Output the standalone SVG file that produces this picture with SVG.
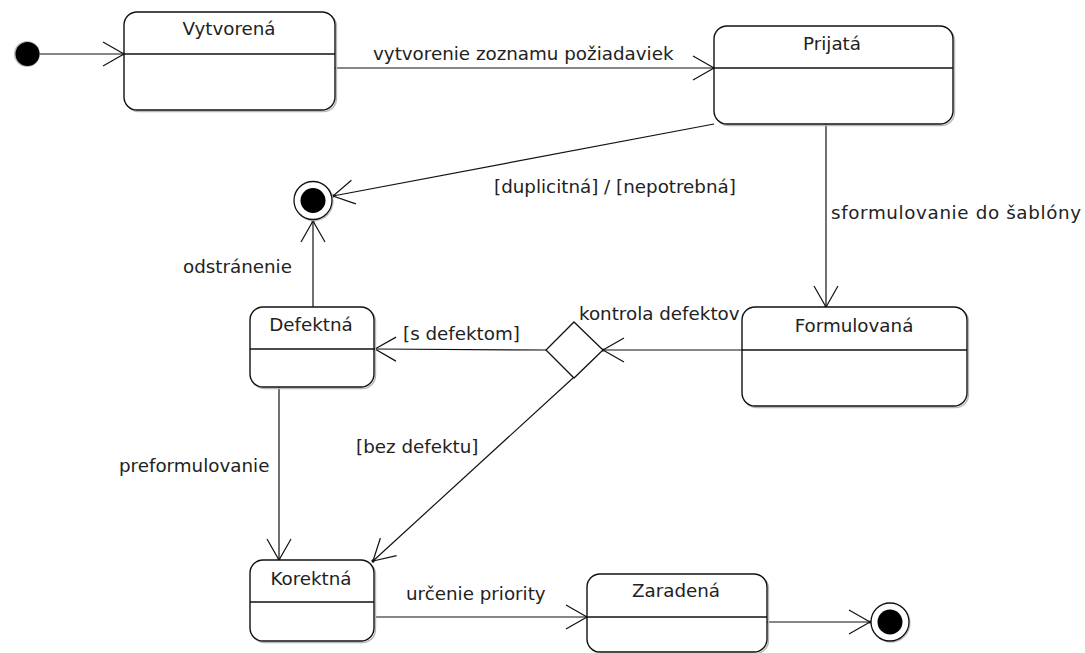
<svg xmlns="http://www.w3.org/2000/svg" width="1085" height="653" viewBox="0 0 1085 653">
  <defs>
    <style>
      .box { fill: #ffffff; stroke: #111111; stroke-width: 1.4; }
      .shadow { fill: none; stroke: #b8b8b8; stroke-width: 1.4; }
      .div { stroke: #111111; stroke-width: 1.4; }
      .edge { fill: none; stroke: #111111; stroke-width: 1.2; }
      text { font-family: "DejaVu Sans", "Liberation Sans", sans-serif; font-size: 18.3px; fill: #222222; }
      .title { text-anchor: middle; }
    </style>
    <marker id="open" markerUnits="userSpaceOnUse" markerWidth="30" markerHeight="30" viewBox="-24 -15 28 30" refX="0" refY="0" orient="auto">
      <path d="M -21 -12 L 0 0 L -21 12" fill="none" stroke="#111111" stroke-width="1.2"/>
      <circle cx="0" cy="0" r="1.6" fill="#111111"/>
    </marker>
  </defs>

  <rect width="1085" height="653" fill="#ffffff"/>

  <!-- connectors -->
  <g id="connectors">
    <line class="edge" x1="39" y1="54" x2="124" y2="54" marker-end="url(#open)"/>
    <line class="edge" x1="335" y1="68" x2="714" y2="68" marker-end="url(#open)"/>
    <text x="373" y="60">vytvorenie zoznamu požiadaviek</text>

    <line class="edge" x1="714" y1="124" x2="333" y2="196" marker-end="url(#open)"/>
    <text x="494" y="193">[duplicitná] / [nepotrebná]</text>

    <line class="edge" x1="826" y1="124" x2="826" y2="307" marker-end="url(#open)"/>
    <text x="831" y="219" textLength="250">sformulovanie do šablóny</text>

    <line class="edge" x1="313" y1="307" x2="313" y2="221" marker-end="url(#open)"/>
    <text x="183" y="273">odstránenie</text>

    <line class="edge" x1="742" y1="350" x2="603" y2="350" marker-end="url(#open)"/>
    <text x="579" y="320">kontrola defektov</text>

    <line class="edge" x1="546" y1="350" x2="375" y2="349" marker-end="url(#open)"/>
    <text x="403" y="340">[s defektom]</text>

    <line class="edge" x1="573" y1="378" x2="373" y2="561" marker-end="url(#open)"/>
    <text x="356" y="453">[bez defektu]</text>

    <line class="edge" x1="279" y1="387" x2="279" y2="560" marker-end="url(#open)"/>
    <text x="119" y="472">preformulovanie</text>

    <line class="edge" x1="375" y1="617" x2="587" y2="617" marker-end="url(#open)"/>
    <text x="406" y="600">určenie priority</text>

    <line class="edge" x1="767" y1="622" x2="870" y2="622" marker-end="url(#open)"/>
  </g>

  <!-- initial state -->
  <g id="initial">
    <circle cx="27" cy="54" r="13" fill="#bbbbbb"/>
    <circle cx="27.5" cy="54" r="12" fill="#000000"/>
  </g>

  <!-- states -->
  <g id="vytvorena">
    <rect class="shadow" x="125.5" y="13.5" width="211" height="98" rx="13"/>
    <rect class="box" x="124" y="12" width="211" height="98" rx="13"/>
    <line class="div" x1="124" y1="54" x2="335" y2="54"/>
    <text class="title" x="229" y="35">Vytvorená</text>
  </g>

  <g id="prijata">
    <rect class="shadow" x="715.5" y="27.5" width="239" height="98" rx="13"/>
    <rect class="box" x="714" y="26" width="239" height="98" rx="13"/>
    <line class="div" x1="714" y1="68" x2="953" y2="68"/>
    <text class="title" x="832" y="50">Prijatá</text>
  </g>

  <g id="defektna">
    <rect class="shadow" x="251.5" y="308.5" width="124" height="80" rx="13"/>
    <rect class="box" x="250" y="307" width="124" height="80" rx="13"/>
    <line class="div" x1="250" y1="349" x2="374" y2="349"/>
    <text class="title" x="311" y="331">Defektná</text>
  </g>

  <g id="formulovana">
    <rect class="shadow" x="743.5" y="308.5" width="225" height="99" rx="13"/>
    <rect class="box" x="742" y="307" width="225" height="99" rx="13"/>
    <line class="div" x1="742" y1="350" x2="967" y2="350"/>
    <text class="title" x="854" y="332">Formulovaná</text>
  </g>

  <g id="korektna">
    <rect class="shadow" x="251.5" y="561.5" width="124" height="81" rx="13"/>
    <rect class="box" x="250" y="560" width="124" height="81" rx="13"/>
    <line class="div" x1="250" y1="602" x2="374" y2="602"/>
    <text class="title" x="311" y="585">Korektná</text>
  </g>

  <g id="zaradena">
    <rect class="shadow" x="588.5" y="575.5" width="180" height="78" rx="13"/>
    <rect class="box" x="587" y="574" width="180" height="78" rx="13"/>
    <line class="div" x1="587" y1="617" x2="767" y2="617"/>
    <text class="title" x="676" y="597">Zaradená</text>
  </g>

  <!-- decision -->
  <g id="decision">
    <polygon points="574,322 603,350 574,378 546,350" fill="#ffffff" stroke="#111111" stroke-width="1.3"/>
  </g>

  <!-- final states -->
  <g id="final-top">
    <circle cx="314" cy="201.5" r="19" fill="none" stroke="#c0c0c0" stroke-width="1.3"/>
    <circle cx="313" cy="200.5" r="19" fill="#ffffff" stroke="#111111" stroke-width="1.3"/>
    <circle cx="313" cy="200.5" r="12.5" fill="#000000"/>
  </g>

  <g id="final-bottom">
    <circle cx="891" cy="623" r="19" fill="none" stroke="#c0c0c0" stroke-width="1.3"/>
    <circle cx="890" cy="622" r="19" fill="#ffffff" stroke="#111111" stroke-width="1.3"/>
    <circle cx="890" cy="622" r="12.5" fill="#000000"/>
  </g>
</svg>
